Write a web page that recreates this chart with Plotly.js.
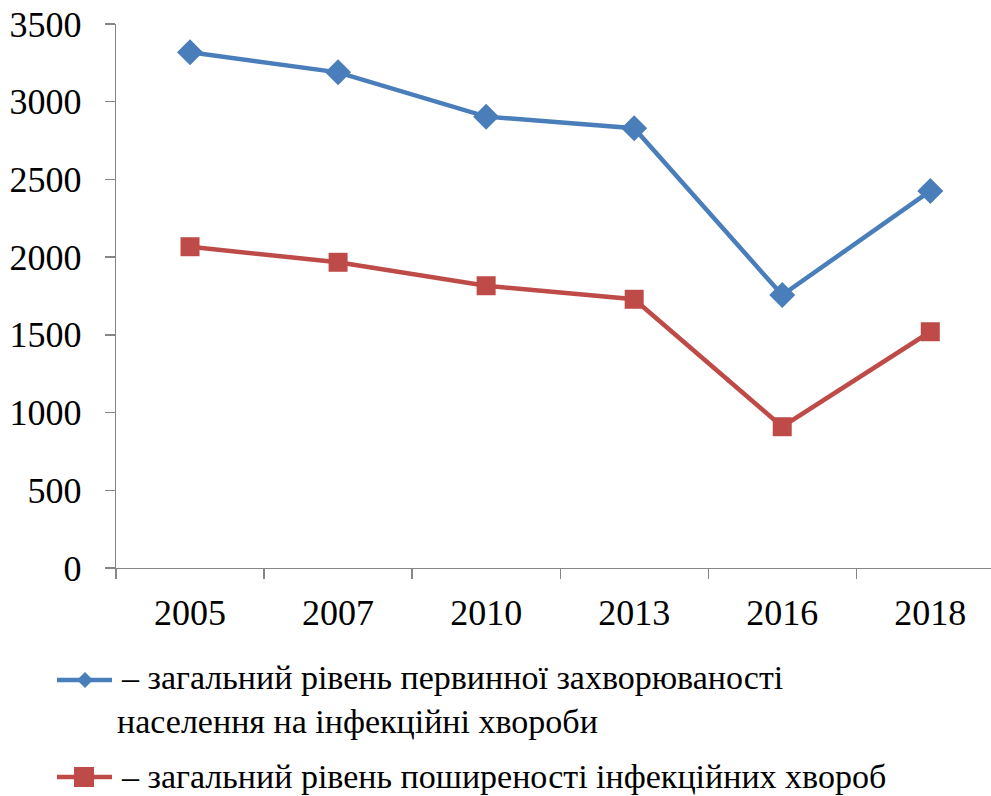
<!DOCTYPE html>
<html>
<head>
<meta charset="utf-8">
<script src="https://cdn.plot.ly/plotly-3.0.1.min.js"></script>
<style>html,body{margin:0;padding:0;background:#fff;}#chart{width:991px;height:796px;}</style>
</head>
<body>
<div id="chart"></div>
<script>
const years = ["2005", "2007", "2010", "2013", "2016", "2018"];
const primaryIncidence = [3318, 3189, 2904, 2829, 1756, 2426];
const prevalence = [2067, 1967, 1816, 1729, 909, 1520];
const legendLines1 = ["– загальний рівень первинної захворюваності", "населення на інфекційні хвороби"];
const legendLines2 = ["– загальний рівень поширеності інфекційних хвороб"];
const yTicks = [0, 500, 1000, 1500, 2000, 2500, 3000, 3500];

const font = "Times New Roman";
const blue = "#4A7EBB", red = "#BE4B48";

// plot box in pixels (margins) and helpers to place legend decorations in paper coords
const M = {l: 116, r: 0, t: 24, b: 228};
const W = 991, H = 796;
const pw = W - M.l - M.r, ph = H - M.t - M.b;
const px = X => (X - M.l) / pw;
const py = Y => (H - M.b - Y) / ph;

const traces = [
  {
    x: years, y: primaryIncidence, name: legendLines1.join(" "), type: "scatter", mode: "lines+markers",
    line: {color: blue, width: 4.5},
    marker: {symbol: "diamond", size: 20, color: blue}
  },
  {
    x: years, y: prevalence, name: legendLines2[0], type: "scatter", mode: "lines+markers",
    line: {color: red, width: 4.5},
    marker: {symbol: "square", size: 19, color: red}
  }
];

// legend keys (decoration, drawn as shapes in paper coordinates)
function keyLine(Y, color) {
  return {type: "line", xref: "paper", yref: "paper", x0: px(57), x1: px(112), y0: py(Y), y1: py(Y),
    line: {color: color, width: 4.5}, layer: "above"};
}
const shapes = [
  keyLine(680, blue),
  {type: "path", xref: "paper", yref: "paper", fillcolor: blue, line: {width: 0}, layer: "above",
    path: `M ${px(85)} ${py(672)} L ${px(93)} ${py(680)} L ${px(85)} ${py(688)} L ${px(77)} ${py(680)} Z`},
  keyLine(777, red),
  {type: "rect", xref: "paper", yref: "paper", fillcolor: red, line: {width: 0}, layer: "above",
    x0: px(74), x1: px(94), y0: py(767), y1: py(787)}
];

function legendText(text, X, Y) {
  return {xref: "paper", yref: "paper", x: px(X), y: py(Y), xanchor: "left", yanchor: "middle",
    showarrow: false, text: text, align: "left",
    font: {family: font, size: 34, color: "#000"}};
}
const annotations = [
  legendText(legendLines1[0], 119, 677),
  legendText(legendLines1[1], 115, 721),
  legendText(legendLines2[0], 119, 776)
];

const layout = {
  width: W, height: H,
  margin: M,
  paper_bgcolor: "#fff", plot_bgcolor: "#fff",
  font: {family: font, color: "#000"},
  showlegend: false,
  shapes: shapes,
  annotations: annotations,
  xaxis: {
    type: "category",
    range: [-0.5, 5.41],
    tickson: "boundaries",
    ticks: "outside", ticklen: 10, tickcolor: "#868686", tickwidth: 1.3,
    showline: true, linecolor: "#868686", linewidth: 1.3,
    showgrid: false, zeroline: false,
    tickfont: {family: font, size: 36, color: "#000"},
    ticklabelstandoff: 12
  },
  yaxis: {
    range: [0, 3500],
    tickvals: yTicks,
    ticktext: yTicks.map(String),
    ticks: "outside", ticklen: 10, tickcolor: "#868686", tickwidth: 1.3,
    showline: true, linecolor: "#868686", linewidth: 1.3,
    showgrid: false, zeroline: false,
    tickfont: {family: font, size: 36, color: "#000"},
    ticklabelstandoff: 16
  }
};
Plotly.newPlot("chart", traces, layout, {displayModeBar: false, staticPlot: true});
</script>
</body>
</html>
